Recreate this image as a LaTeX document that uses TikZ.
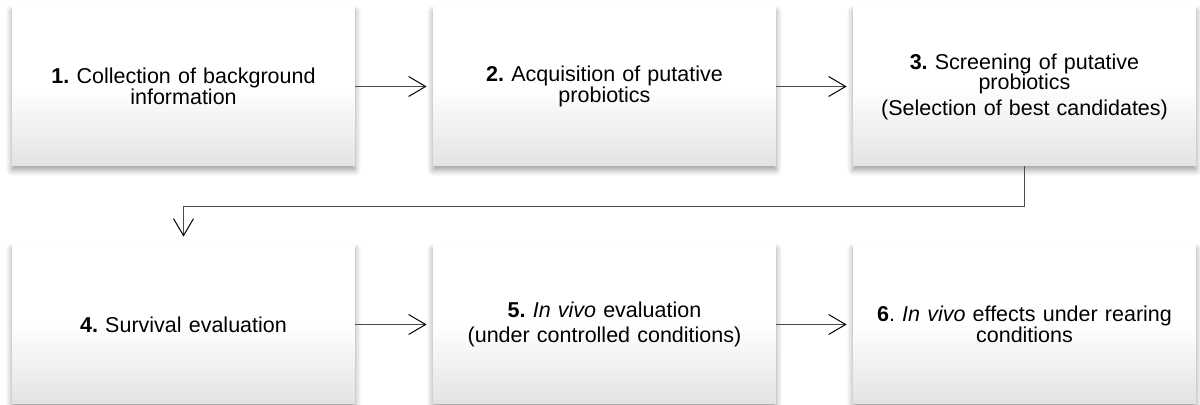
\documentclass[tikz,border=0pt]{standalone}
\usepackage{fontspec}
\setmainfont{Liberation Sans}
\usetikzlibrary{arrows.meta,shadows.blur}
\newcommand{\StageW}{171.5pt}
\newcommand{\StageH}{79.5pt}
\newcommand{\ParGap}{2.5pt}
\frenchspacing

\begin{document}
\begin{tikzpicture}[x=0.5pt,y=-0.5pt,
  stage/.style={rectangle, minimum width=\StageW, minimum height=\StageH,
    text width=155pt, align=center, inner sep=0pt,
    top color=white, bottom color=black!11, middle color=white,
    blur shadow={shadow xshift=0pt, shadow yshift=-2pt,
      shadow blur radius=3pt, shadow blur steps=6, shadow opacity=40},
    font=\fontsize{10.75}{10.25}\selectfont},
  flow/.style={draw=black!70, line width=0.75pt,
    -{Straight Barb[length=8.5pt,width=10pt,line width=0.5pt,color=black]},
    shorten >=3pt}
]
\useasboundingbox (0,0) rectangle (1200,405);

% ----- Stages, top row -----
\node[stage] (s1) at (183.5,86.5) {\textbf{1.} Collection of background\\ information};
\node[stage] (s2) at (604.5,86.5) {\textbf{2.} Acquisition of putative\\ probiotics};
\node[stage] (s3) at (1024.5,86.5) {\textbf{3.} Screening of putative\\ probiotics\\[\ParGap] (Selection of best candidates)};

% ----- Stages, bottom row -----
\node[stage] (s4) at (183.5,324.5) {\textbf{4.} Survival evaluation};
\node[stage] (s5) at (604.5,324.5) {\textbf{5.} \textit{In vivo} evaluation\\[\ParGap] (under controlled conditions)};
\node[stage] (s6) at (1024.5,324.5) {\textbf{6}. \textit{In vivo} effects under rearing\\ conditions};

% ----- Flow -----
\draw[flow] (s1) -- (s2);
\draw[flow] (s2) -- (s3);
\draw[flow, shorten >=4pt] (s3.south) -- ++(0,40) -| (s4.north);
\draw[flow] (s4) -- (s5);
\draw[flow] (s5) -- (s6);

\end{tikzpicture}
\end{document}
